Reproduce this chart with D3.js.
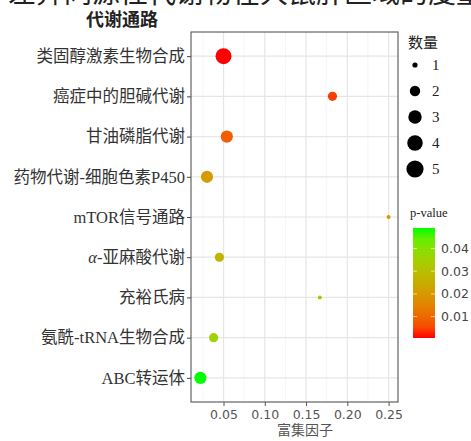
<!DOCTYPE html>
<html>
<head>
<meta charset="utf-8">
<script src="https://cdn.jsdelivr.net/npm/d3@7"></script>
<style>
  body { margin: 0; background: #fff; }
  svg { display: block; }
</style>
</head>
<body>
<div id="chart"></div>
<script>
// values
let pathways = ['类固醇激素生物合成', '癌症中的胆碱代谢', '甘油磷脂代谢', '药物代谢-细胞色素P450',
  'mTOR信号通路', 'α-亚麻酸代谢', '充裕氏病', '氨酰-tRNA生物合成', 'ABC转运体'];
let richFactor = [0.05, 0.182, 0.054, 0.030, 0.25, 0.045, 0.1667, 0.038, 0.022];
let counts = [5, 2, 3, 3, 1, 2, 1, 2, 3];
let pvalues = [0.0006, 0.004, 0.008, 0.021, 0.02, 0.027, 0.032, 0.035, 0.049];
let xTicks = [0.05, 0.10, 0.15, 0.20, 0.25];
let sizeLegend = [1, 2, 3, 4, 5];
let pTicks = [0.01, 0.02, 0.03, 0.04];

let width = 471, height = 441;
let margin = {top: 32, left: 191, right: 73, bottom: 39};
let serif = '"Liberation Serif", "Noto Sans CJK SC", serif';
let sans = '"DejaVu Sans", "Noto Sans CJK SC", sans-serif';

let svg = d3.select('#chart').append('svg')
  .attr('width', width)
  .attr('height', height);

// caption line cut off at the very top, as in the source picture
svg.append('text')
  .attr('x', 8)
  .attr('y', 3)
  .style('font-family', serif)
  .style('font-size', 28)
  .style('fill', '#222')
  .text('差异同源性代谢物在大鼠肝区域的度量');

let pw = width - margin.left - margin.right,
  ph = height - margin.top - margin.bottom;

let g = svg.append('g')
  .attr('transform', 'translate(' + margin.left + ',' + margin.top + ')');

// x scale with the ggplot style 5% expansion
let xMin = d3.min(richFactor), xMax = d3.max(richFactor), pad = (xMax - xMin) * 0.05;
let x = d3.scaleLinear().domain([xMin - pad, xMax + pad]).range([0, pw]);
let y = d3.scalePoint().domain(pathways).range([0, ph]).padding(0.6);
let size = d3.scaleLog().domain([1, 5]).range([2, 8]);
let pExtent = d3.extent(pvalues);
let color = d3.scaleLinear().domain(pExtent).range(['#ff0000', '#00ff00'])
  .interpolate(d3.interpolateLab);

// grid lines
let minorTicks = [0.025, 0.075, 0.125, 0.175, 0.225].filter(d => x(d) > 0);
g.selectAll('.minor').data(minorTicks).enter().append('line')
  .attr('x1', d => x(d)).attr('x2', d => x(d))
  .attr('y1', 0).attr('y2', ph)
  .style('stroke', '#f3f3f3').style('stroke-width', 0.8);
g.selectAll('.majx').data(xTicks).enter().append('line')
  .attr('x1', d => x(d)).attr('x2', d => x(d))
  .attr('y1', 0).attr('y2', ph)
  .style('stroke', '#e6e6e6').style('stroke-width', 1.2);
g.selectAll('.majy').data(pathways).enter().append('line')
  .attr('x1', 0).attr('x2', pw)
  .attr('y1', d => y(d)).attr('y2', d => y(d))
  .style('stroke', '#e6e6e6').style('stroke-width', 1.2);

// x axis
let xAxis = g.append('g')
  .attr('transform', 'translate(0,' + ph + ')')
  .call(d3.axisBottom(x).tickValues(xTicks).tickFormat(d3.format('.2f')).tickSize(4).tickPadding(4));
xAxis.select('.domain').remove();
xAxis.selectAll('line').style('stroke', '#555');
xAxis.selectAll('text').style('font-family', sans).style('font-size', 12.5).style('fill', '#555');

// y axis
let yAxis = g.append('g')
  .call(d3.axisLeft(y).tickSize(4).tickPadding(2));
yAxis.select('.domain').remove();
yAxis.selectAll('line').style('stroke', '#444');
yAxis.selectAll('text').style('font-family', serif).style('font-size', 16.5).style('fill', '#333')
  .text(null)
  .each(function(d) {
    let t = d3.select(this);
    if (d.startsWith('α')) {
      t.append('tspan').style('font-style', 'italic').text('α');
      t.append('tspan').text(d.slice(1));
    } else {
      t.text(d);
    }
  });

// points
let rows = pathways.map((p, i) => ({name: p, x: richFactor[i], n: counts[i], p: pvalues[i]}));
g.selectAll('.dot').data(rows).enter().append('circle')
  .attr('cx', d => x(d.x))
  .attr('cy', d => y(d.name))
  .attr('r', d => size(d.n))
  .style('fill', d => color(d.p));

// panel border
g.append('rect')
  .attr('width', pw).attr('height', ph)
  .style('fill', 'none').style('stroke', '#555').style('stroke-width', 1.1);

// axis titles
svg.append('text')
  .attr('x', 122).attr('y', 26)
  .style('font-family', serif).style('font-size', 18).style('font-weight', 'bold')
  .style('text-anchor', 'middle').style('fill', '#222')
  .text('代谢通路');
svg.append('text')
  .attr('x', 305).attr('y', 435)
  .style('font-family', sans).style('font-size', 14)
  .style('text-anchor', 'middle').style('fill', '#555')
  .text('富集因子');

// size legend
let sl = svg.append('g').attr('transform', 'translate(415,0)');
sl.append('text')
  .attr('x', -7).attr('y', 48)
  .style('font-family', serif).style('font-size', 15).style('fill', '#222')
  .text('数量');
let sy = d3.scalePoint().domain(sizeLegend).range([65, 169]);
sl.selectAll('circle').data(sizeLegend).enter().append('circle')
  .attr('cx', 0).attr('cy', d => sy(d)).attr('r', d => size(d) + 0.6)
  .style('fill', '#000');
sl.selectAll('.lab').data(sizeLegend).enter().append('text')
  .attr('x', 17).attr('y', d => sy(d) + 5)
  .style('font-family', serif).style('font-size', 15).style('fill', '#222')
  .text(d => d);

// colour bar
let barTop = 228, barBottom = 338, barX = 413, barW = 22;
svg.append('text')
  .attr('x', 410).attr('y', 217)
  .style('font-family', serif).style('font-size', 12.5).style('fill', '#222')
  .text('p-value');
let grad = svg.append('defs').append('linearGradient')
  .attr('id', 'pgrad').attr('x1', 0).attr('x2', 0).attr('y1', 1).attr('y2', 0);
d3.range(0, 1.0001, 0.1).forEach(t => {
  grad.append('stop').attr('offset', t)
    .attr('stop-color', color(pExtent[0] + t * (pExtent[1] - pExtent[0])));
});
svg.append('rect')
  .attr('x', barX).attr('y', barTop).attr('width', barW).attr('height', barBottom - barTop)
  .style('fill', 'url(#pgrad)');
let py = d3.scaleLinear().domain(pExtent).range([barBottom, barTop]);
pTicks.forEach(v => {
  [barX, barX + barW - 4].forEach(tx => {
    svg.append('line')
      .attr('x1', tx).attr('x2', tx + 4)
      .attr('y1', py(v)).attr('y2', py(v))
      .style('stroke', '#fff').style('stroke-opacity', 0.6);
  });
  svg.append('text')
    .attr('x', 441).attr('y', py(v) + 4.5)
    .style('font-family', sans).style('font-size', 12.5).style('fill', '#444')
    .text(d3.format('.2f')(v));
});
</script>
</body>
</html>
